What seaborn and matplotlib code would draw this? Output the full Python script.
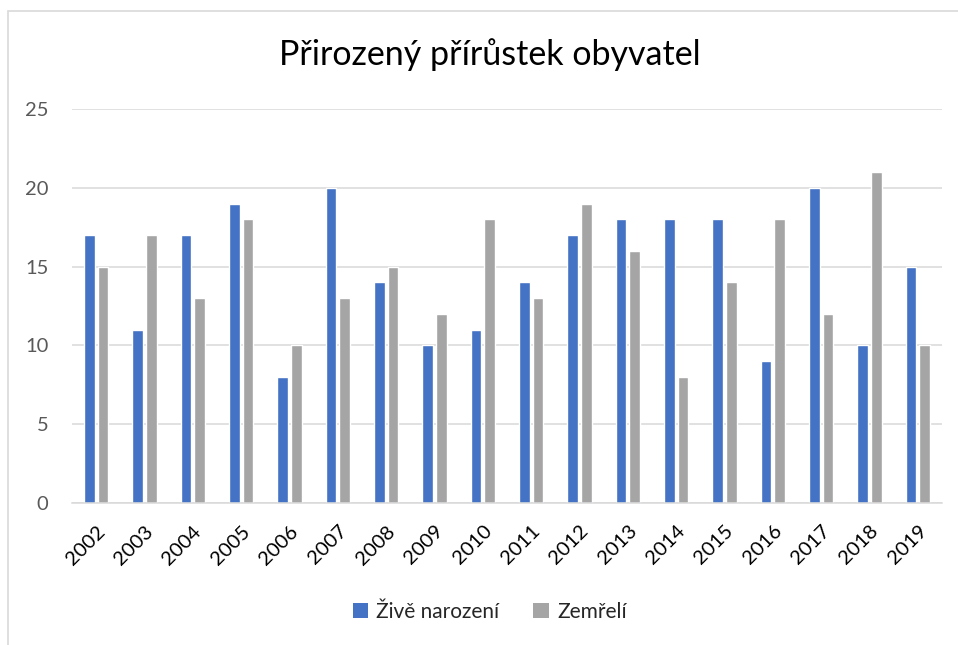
import matplotlib
matplotlib.use("Agg")
import matplotlib.pyplot as plt
from matplotlib.patches import Patch, Rectangle
import seaborn as sns
import pandas as pd

# data
years = [str(y) for y in range(2002, 2020)]
zive_narozeni = [17, 11, 17, 19, 8, 20, 14, 10, 11, 14, 17, 18, 18, 18, 9, 20, 10, 15]
zemreli = [15, 17, 13, 18, 10, 13, 15, 12, 18, 13, 19, 16, 8, 14, 18, 12, 21, 10]
series_names = ["Živě narození", "Zemřelí"]
colors = ["#4472C4", "#A5A5A5"]

df = pd.DataFrame({
    "rok": years * 2,
    "hodnota": zive_narozeni + zemreli,
    "serie": [series_names[0]] * len(years) + [series_names[1]] * len(years),
})

sns.set_theme(style="white")
plt.rcParams["font.family"] = ["Lato", "DejaVu Sans"]

fig = plt.figure(figsize=(9.58, 6.45), dpi=100)
ax = fig.add_axes([72 / 958, 1 - 503 / 645, 870 / 958, 394 / 645])

sns.barplot(data=df, x="rok", y="hodnota", hue="serie", palette=colors,
            saturation=1, width=0.56, gap=0.2, ax=ax, legend=False)

ax.set_ylim(0, 25)
ax.set_yticks(range(0, 26, 5))
ax.set_xlim(-0.5, len(years) - 0.5)
ax.yaxis.grid(True, color="#D9D9D9", linewidth=1.1)
ax.set_axisbelow(True)
for side in ["top", "right", "left"]:
    ax.spines[side].set_visible(False)
ax.spines["bottom"].set_color("#D9D9D9")
ax.spines["bottom"].set_linewidth(1.1)
ax.set_xlabel("")
ax.set_ylabel("")
ax.tick_params(axis="y", length=0, pad=17, labelsize=14.5, labelcolor="#595959")
ax.tick_params(axis="x", length=0, pad=14, labelsize=14.5, labelcolor="black")
plt.setp(ax.get_xticklabels(), rotation=45, ha="right", rotation_mode="anchor")

fig.text(0.511, 1 - 65 / 645, "Přirozený přírůstek obyvatel", ha="center",
         va="baseline", fontsize=24.5, color="black")

handles = [Patch(facecolor=c, edgecolor="none") for c in colors]
fig.legend(handles, series_names, loc="center", bbox_to_anchor=(0.511, 1 - 612 / 645),
           ncol=2, frameon=False, fontsize=15, handlelength=0.75, handleheight=0.75,
           handletextpad=0.4, columnspacing=1.6)

# chart border like the spreadsheet frame
fig.patches.append(Rectangle((8 / 958, -0.05), 1.0, 1.05 - 11 / 645,
                             transform=fig.transFigure, fill=False,
                             edgecolor="#D9D9D9", linewidth=1.2))

fig.savefig("out.png", dpi=100)
